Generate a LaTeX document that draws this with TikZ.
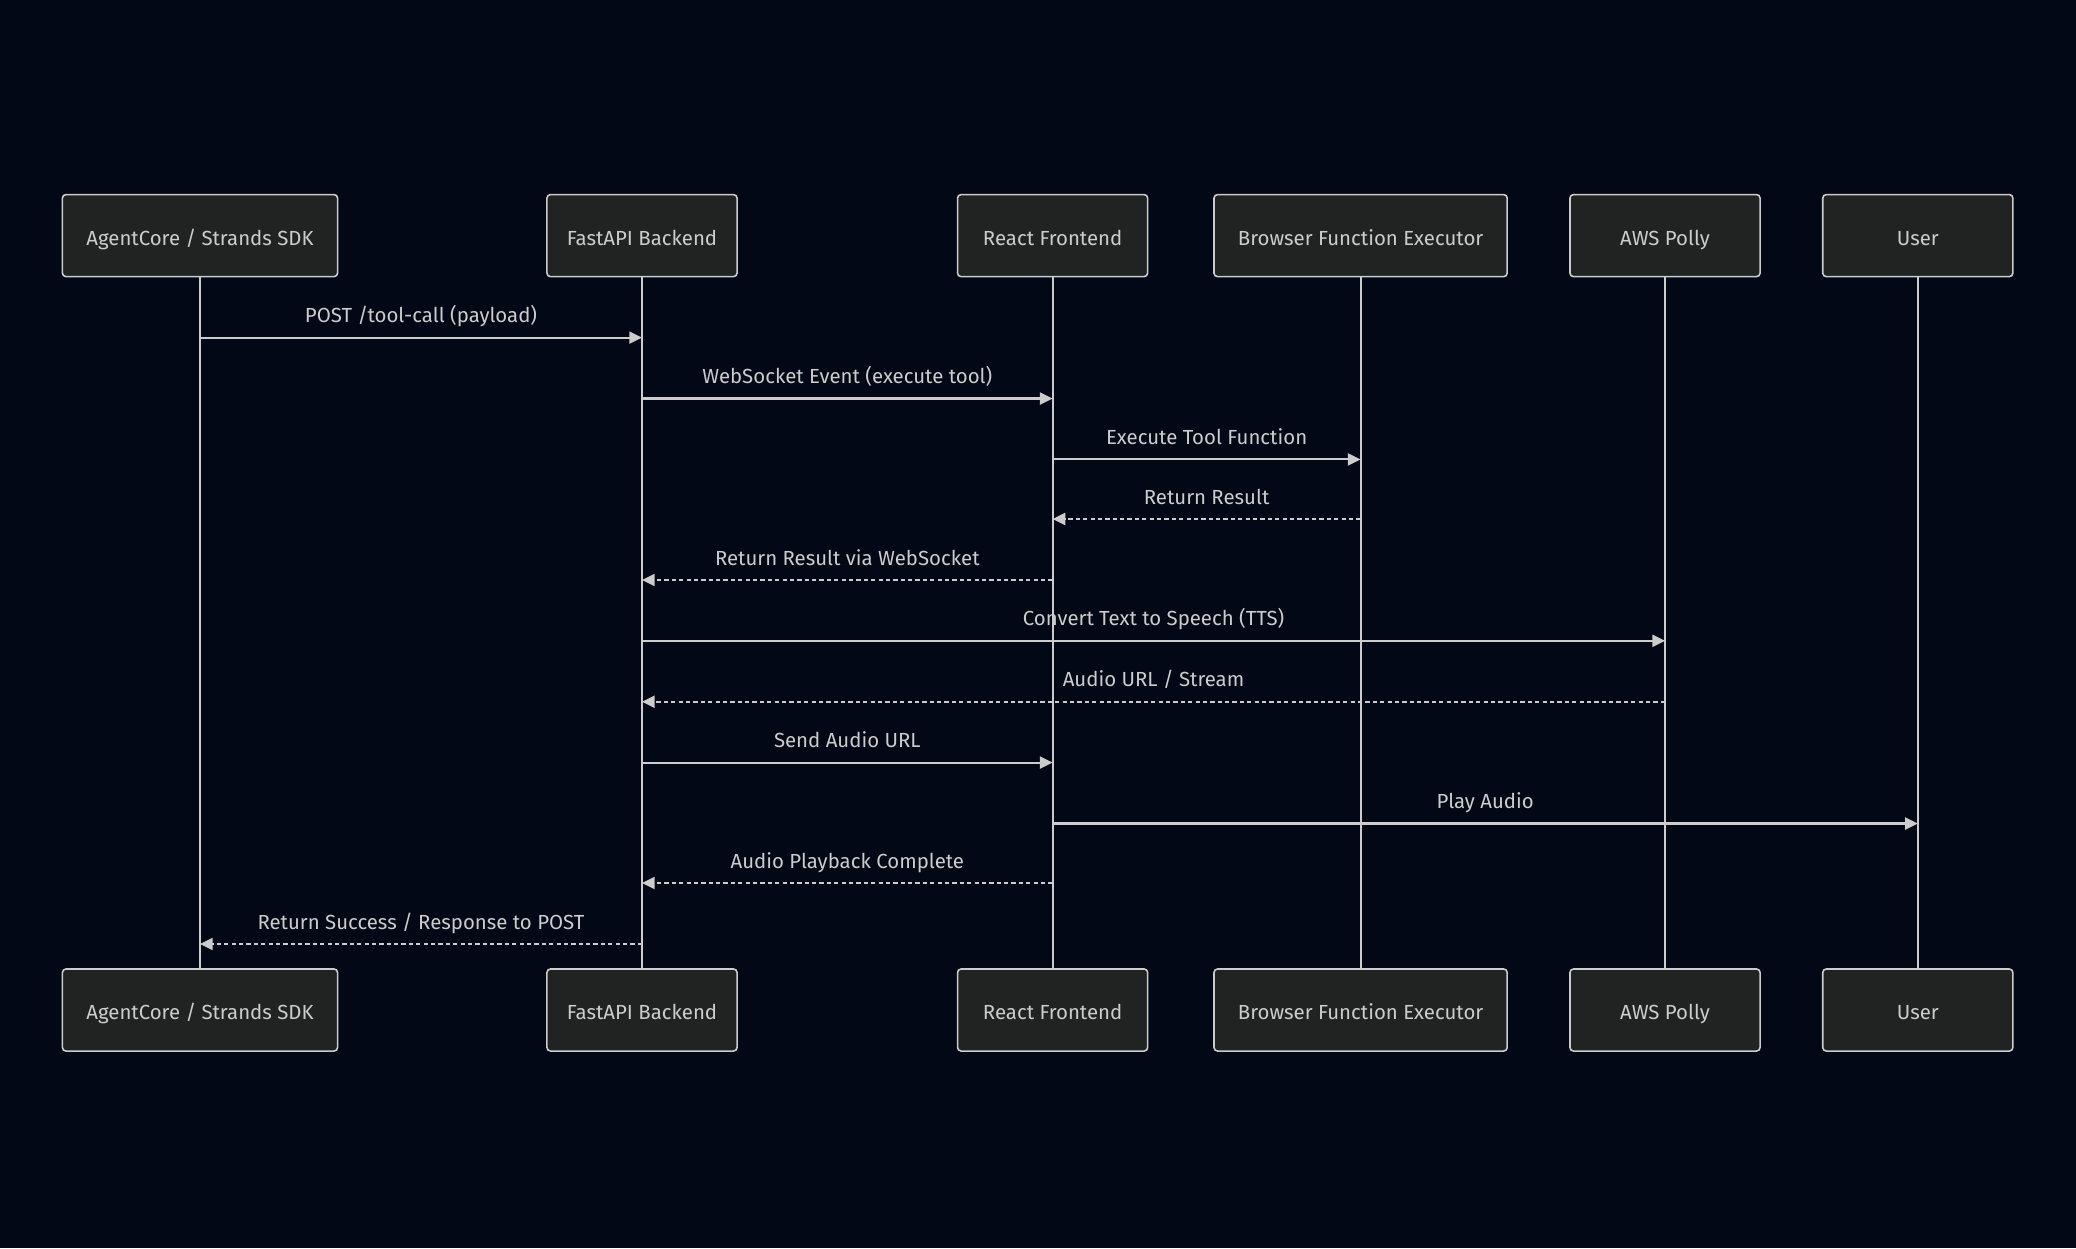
\documentclass[tikz,border=0pt]{standalone}
\usepackage{fontspec}
\setmainfont{Fira Sans}
\usepackage{tikz}
\usetikzlibrary{arrows.meta,calc}
\definecolor{bgc}{RGB}{2,8,22}
\definecolor{boxc}{RGB}{33,34,34}
\definecolor{inkc}{RGB}{204,204,204}

\begin{document}
\begin{tikzpicture}[x=0.01cm,y=-0.01cm,font=\fontsize{5.8pt}{7pt}\selectfont,
  actor/.style={draw=inkc,fill=boxc,text=inkc,line width=0.45pt,rounded corners=1pt,
    minimum width=1.9cm,minimum height=0.82cm,inner sep=0pt,text height=6.6pt,text depth=1pt},
  life/.style={draw=inkc,line width=0.6pt},
  call/.style={draw=inkc,line width=0.6pt,-{Triangle[length=3.6pt,width=3.4pt]}},
  reply/.style={call,dash pattern=on 1.2pt off 0.9pt},
  lbl/.style={text=inkc,anchor=base,yshift=0.15cm,inner sep=0pt}]
  \fill[bgc] (0,0) rectangle (2076,1248);
  % participants, top row
  \node[actor,minimum width=2.75cm] (agent) at (200,235.6) {AgentCore / Strands SDK};
  \node[actor] (api) at (642,235.6) {FastAPI Backend};
  \node[actor] (react) at (1052.6,235.6) {React Frontend};
  \node[actor,minimum width=2.93cm] (exec) at (1360.6,235.6) {Browser Function Executor};
  \node[actor] (polly) at (1665,235.6) {AWS Polly};
  \node[actor] (user) at (1917.8,235.6) {User};
  % participants, bottom row
  \node[actor,minimum width=2.75cm] (agentB) at (200,1010) {AgentCore / Strands SDK};
  \node[actor] (apiB) at (642,1010) {FastAPI Backend};
  \node[actor] (reactB) at (1052.6,1010) {React Frontend};
  \node[actor,minimum width=2.93cm] (execB) at (1360.6,1010) {Browser Function Executor};
  \node[actor] (pollyB) at (1665,1010) {AWS Polly};
  \node[actor] (userB) at (1917.8,1010) {User};
  % lifelines
  \draw[life] (agent)--(agentB); \draw[life] (api)--(apiB);
  \draw[life] (react)--(reactB); \draw[life] (exec)--(execB);
  \draw[life] (polly)--(pollyB); \draw[life] (user)--(userB);
  % message rows
  \coordinate (m1) at (0,337.6);  \coordinate (m2) at (0,398.5);
  \coordinate (m3) at (0,459.4);  \coordinate (m4) at (0,519);
  \coordinate (m5) at (0,580);    \coordinate (m6) at (0,640.8);
  \coordinate (m7) at (0,701.7);  \coordinate (m8) at (0,762.6);
  \coordinate (m9) at (0,823.5);  \coordinate (m10) at (0,883);
  \coordinate (m11) at (0,944);
  \draw[call] (agent|-m1)--node[lbl]{POST /tool-call (payload)}(api|-m1);
  \draw[call] (api|-m2)--node[lbl]{WebSocket Event (execute tool)}(react|-m2);
  \draw[call] (react|-m3)--node[lbl]{Execute Tool Function}(exec|-m3);
  \draw[reply] (exec|-m4)--node[lbl]{Return Result}(react|-m4);
  \draw[reply] (react|-m5)--node[lbl]{Return Result via WebSocket}(api|-m5);
  \draw[call] (api|-m6)--node[lbl]{Convert Text to Speech (TTS)}(polly|-m6);
  \draw[reply] (polly|-m7)--node[lbl]{Audio URL / Stream}(api|-m7);
  \draw[call] (api|-m8)--node[lbl]{Send Audio URL}(react|-m8);
  \draw[call] (react|-m9)--node[lbl]{Play Audio}(user|-m9);
  \draw[reply] (react|-m10)--node[lbl]{Audio Playback Complete}(api|-m10);
  \draw[reply] (api|-m11)--node[lbl]{Return Success / Response to POST}(agent|-m11);
\end{tikzpicture}
\end{document}
